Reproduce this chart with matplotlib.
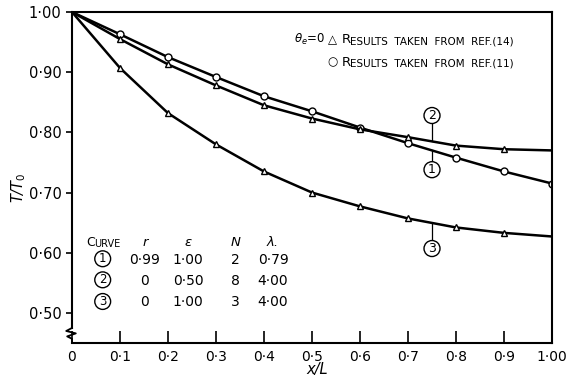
import numpy as np
import matplotlib
matplotlib.use("Agg")
import matplotlib.pyplot as plt

# x/L stations and T/T0 values for the three curves
x = [0.0, 0.1, 0.2, 0.3, 0.4, 0.5, 0.6, 0.7, 0.8, 0.9, 1.0]
curve1 = [1.00, 0.963, 0.925, 0.892, 0.860, 0.835, 0.808, 0.782, 0.758, 0.735, 0.715]
curve2 = [1.00, 0.955, 0.913, 0.878, 0.845, 0.823, 0.805, 0.792, 0.778, 0.772, 0.770]
curve3 = [1.00, 0.907, 0.832, 0.780, 0.735, 0.700, 0.677, 0.657, 0.642, 0.633, 0.627]

xticks = [0, 0.1, 0.2, 0.3, 0.4, 0.5, 0.6, 0.7, 0.8, 0.9, 1.0]
xtick_labels = ["0", "0·1", "0·2", "0·3", "0·4", "0·5", "0·6", "0·7", "0·8", "0·9", "1·00"]
yticks = [0.5, 0.6, 0.7, 0.8, 0.9, 1.0]
ytick_labels = ["0·50", "0·60", "0·70", "0·80", "0·90", "1·00"]

table_cols = ["r", "ε", "N", "λ."]
table_rows = [
    ["1", "0·99", "1·00", "2", "0·79"],
    ["2", "0", "0·50", "8", "4·00"],
    ["3", "0", "1·00", "3", "4·00"],
]

plt.rcParams["font.family"] = "DejaVu Sans"

fig = plt.figure(figsize=(5.74, 3.81), dpi=100)
ax = fig.add_axes([0.1254, 0.0997, 0.8363, 0.8688])

line_kw = dict(color="black", lw=1.8, ms=5, mfc="white", mec="black", mew=1.0)
ax.plot(x, curve1, marker="o", markevery=list(range(1, 11)), **line_kw)
ax.plot(x, curve2, marker="^", markevery=list(range(1, 10)), **line_kw)
ax.plot(x, curve3, marker="^", markevery=list(range(1, 10)), **line_kw)

ax.set_xlim(0, 1.0)
ax.set_ylim(0.45, 1.0)
ax.set_xticks(xticks)
ax.set_xticklabels(xtick_labels)
ax.set_yticks(yticks)
ax.set_yticklabels(ytick_labels)
ax.tick_params(axis="x", direction="in", length=9, width=1.2, labelsize=10, pad=5)
ax.tick_params(axis="y", direction="out", length=4, width=1.2, labelsize=10.5)
for s in ax.spines.values():
    s.set_linewidth(1.5)

# broken y-axis below 0.50
ax.spines["left"].set_bounds(0.475, 1.0)
brk_x = [0.0, -0.012, 0.008, -0.010, 0.0, 0.0]
brk_y = [0.475, 0.470, 0.466, 0.461, 0.457, 0.45]
ax.plot(brk_x, brk_y, color="black", lw=1.3, clip_on=False)

ax.set_xlabel("x/L", style="italic", fontsize=10.5)
ax.xaxis.set_label_coords(0.51, -0.058)
ax.set_ylabel("T/T$_0$", style="italic", fontsize=10.5)
ax.yaxis.set_label_coords(-0.092, 0.47)


def circled(num, xx, yy, size=9):
    ax.text(xx, yy, num, ha="center", va="center", fontsize=size,
            bbox=dict(boxstyle="circle,pad=0.12", fc="white", ec="black", lw=1.0))


# curve labels with leader lines
lx = 0.75
for num, ys, ly in [("2", curve2, 0.828), ("1", curve1, 0.738), ("3", curve3, 0.607)]:
    yc = np.interp(lx, x, ys)
    off = 0.014 if ly > yc else -0.014
    ax.plot([lx, lx], [yc, ly - off], color="black", lw=0.9)
    circled(num, lx, ly)


def small_caps(xx, yy, first, rest, big=9.5, small=7.5):
    t = ax.text(xx, yy, first, fontsize=big, va="baseline", ha="left")
    ax.annotate(rest, xy=(1, 0), xycoords=t, xytext=(-0.8, 0), textcoords="offset points",
                fontsize=small, va="bottom", ha="left")


# key for the marker symbols
ax.text(0.463, 0.948, r"$\theta_e$=0", fontsize=8.5, va="baseline")
ax.text(0.543, 0.948, "△", fontsize=8.5, va="baseline", ha="center")
small_caps(0.563, 0.948, "R", "ESULTS  TAKEN  FROM  REF.(14)")
ax.text(0.543, 0.911, "○", fontsize=8.5, va="baseline", ha="center")
small_caps(0.563, 0.911, "R", "ESULTS  TAKEN  FROM  REF.(11)")

# parameter table
col_x = [0.152, 0.242, 0.341, 0.419]
small_caps(0.030, 0.612, "C", "URVE", big=9, small=7)
for cx, name in zip(col_x, table_cols):
    ax.text(cx, 0.612, name, fontsize=9.5, style="italic", ha="center", va="baseline")
row_y = [0.582, 0.547, 0.511]
for ry, row in zip(row_y, table_rows):
    circled(row[0], 0.064, ry + 0.008, size=8.5)
    for cx, val in zip(col_x, row[1:]):
        ax.text(cx, ry, val, fontsize=10, ha="center", va="baseline")

fig.savefig("out.png", dpi=100)
